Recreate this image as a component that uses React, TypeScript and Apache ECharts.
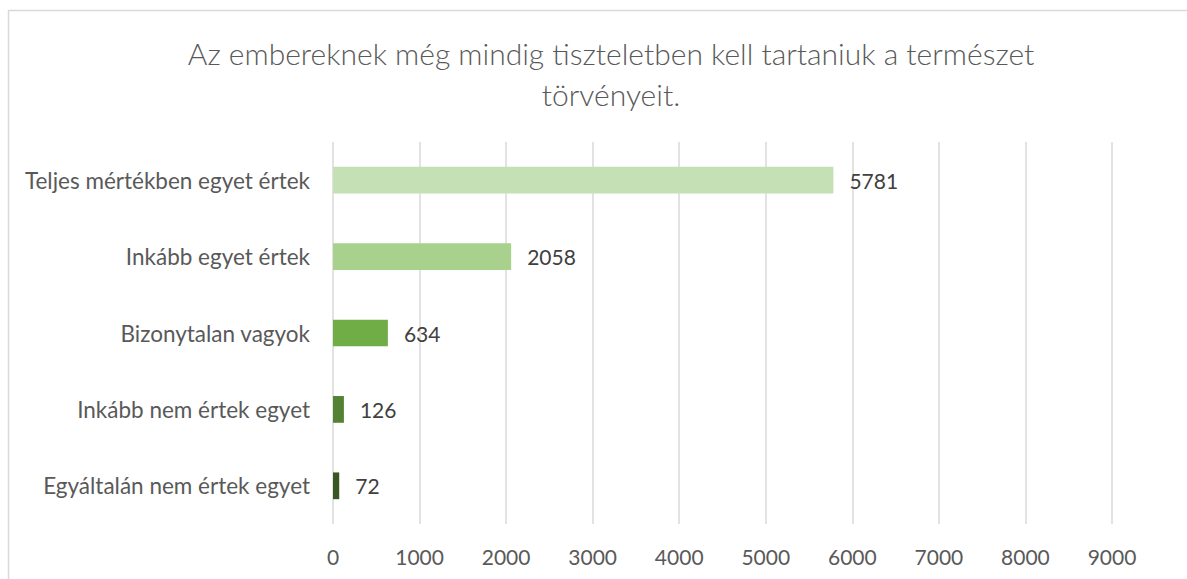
import React, { useEffect, useRef } from "react";
import * as echarts from "echarts";

const titleText = "Az embereknek még mindig tiszteletben kell tartaniuk a természet\ntörvényeit.";
const categories = [
  "Teljes mértékben egyet értek",
  "Inkább egyet értek",
  "Bizonytalan vagyok",
  "Inkább nem értek egyet",
  "Egyáltalán nem értek egyet",
];
const values = [5781, 2058, 634, 126, 72];
const barColors = ["#c5e0b4", "#a9d18e", "#70ad47", "#548235", "#385723"];
const axisMax = 9000;
const axisInterval = 1000;

export default function App() {
  const ref = useRef<HTMLDivElement>(null);
  useEffect(() => {
    if (!ref.current) return;
    const chart = echarts.init(ref.current, undefined, { renderer: "svg" });
    const font = "Lato, 'Open Sans', sans-serif";
    chart.setOption({
      animation: false,
      backgroundColor: "#ffffff",
      graphic: [
        {
          type: "rect",
          shape: { x: 8.5, y: 10.5, width: 1220, height: 620 },
          style: { fill: "none", stroke: "#d9d9d9", lineWidth: 1.5 },
          silent: true,
        },
      ],
      title: {
        text: titleText,
        left: 606,
        top: 27,
        textAlign: "center",
        textStyle: {
          fontFamily: font,
          fontSize: 30,
          fontWeight: 300,
          lineHeight: 41,
          color: "#595959",
        },
      },
      grid: { left: 333, right: 75, top: 142, bottom: 55, containLabel: false },
      xAxis: {
        type: "value",
        min: 0,
        max: axisMax,
        interval: axisInterval,
        axisLine: { show: false },
        axisTick: { show: false },
        splitLine: { show: true, lineStyle: { color: "#d9d9d9", width: 1.5 } },
        axisLabel: {
          fontFamily: font,
          fontSize: 21,
          color: "#595959",
          margin: 22,
          formatter: (v: number) => String(v),
        },
      },
      yAxis: {
        type: "category",
        data: categories,
        inverse: true,
        axisLine: { show: false },
        axisTick: { show: false },
        axisLabel: {
          fontFamily: font,
          fontSize: 22.5,
          color: "#595959",
          margin: 23,
        },
      },
      series: [
        {
          type: "bar",
          barWidth: "35%",
          data: values.map((v, i) => ({ value: v, itemStyle: { color: barColors[i] } })),
          label: {
            show: true,
            position: "right",
            distance: 16,
            fontFamily: font,
            fontSize: 21,
            color: "#404040",
          },
        },
      ],
    });
    return () => chart.dispose();
  }, []);
  return (
    <div
      ref={ref}
      style={{ position: "fixed", left: 0, top: 0, width: 1187, height: 579, background: "#fff" }}
    />
  );
}
